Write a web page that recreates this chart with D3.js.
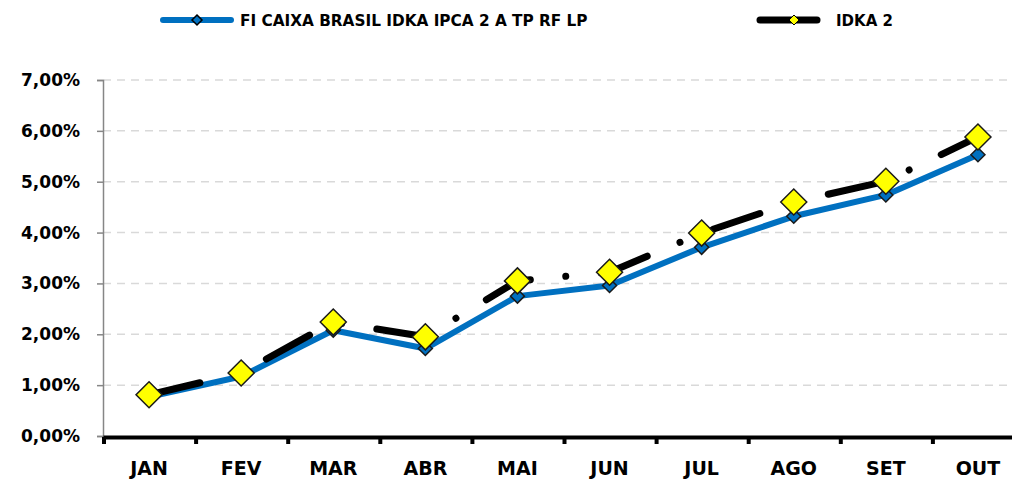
<!DOCTYPE html>
<html>
<head>
<meta charset="utf-8">
<script src="https://cdn.jsdelivr.net/npm/d3@7"></script>
<style>
  body { margin: 0; background: #fff; }
  svg { display: block; font-family: "DejaVu Sans", sans-serif; font-weight: bold; }
</style>
</head>
<body>
<div id="chart"></div>
<script>
var months = ["JAN", "FEV", "MAR", "ABR", "MAI", "JUN", "JUL", "AGO", "SET", "OUT"];
var fundo = [0.77, 1.17, 2.08, 1.72, 2.75, 2.96, 3.71, 4.32, 4.74, 5.53];
var idka = [0.81, 1.24, 2.24, 1.95, 3.05, 3.22, 3.99, 4.60, 5.01, 5.88];
var yTicks = [0, 1, 2, 3, 4, 5, 6, 7];
var seriesNames = ["FI CAIXA BRASIL IDKA IPCA 2 A TP RF LP", "IDKA 2"];

var width = 1012;
var height = 480;

var x_axis = d3.scaleBand().domain(months).range([103, 1024]);
var y_axis = d3.scaleLinear().domain([0, 7]).range([436, 80]);

var svg = d3.select("#chart").append("svg")
  .attr("width", width)
  .attr("height", height);

// grid
svg.append("g")
  .selectAll("line")
  .data(yTicks.slice(1))
  .enter().append("line")
  .attr("x1", 103)
  .attr("x2", width)
  .attr("y1", function(d) { return y_axis(d); })
  .attr("y2", function(d) { return y_axis(d); })
  .attr("stroke", "#d9d9d9")
  .attr("stroke-width", 1.5)
  .attr("stroke-dasharray", "8,6");

// y axis
var yAxis = svg.append("g")
  .attr("transform", "translate(103,0)")
  .call(d3.axisLeft(y_axis).tickValues(yTicks).tickSize(6).tickPadding(17)
    .tickFormat(function(d) { return d3.format(".2f")(d).replace(".", ",") + "%"; }));
yAxis.select(".domain").attr("stroke", "#868686").attr("stroke-width", 1.5);
yAxis.selectAll(".tick line").attr("stroke", "#868686").attr("stroke-width", 1.5);
yAxis.selectAll("text")
  .attr("fill", "#000")
  .style("font-size", "17px")
  .style("font-family", "DejaVu Sans")
  .style("font-weight", "bold");

// x axis
var xAxis = svg.append("g")
  .attr("transform", "translate(0,437)")
  .call(d3.axisBottom(x_axis).tickSize(0).tickPadding(25));
xAxis.select(".domain").attr("stroke", "#000").attr("stroke-width", 4);
xAxis.selectAll("text")
  .attr("fill", "#000")
  .style("font-size", "19px")
  .style("font-family", "DejaVu Sans")
  .style("font-weight", "bold");

// category boundary ticks
svg.append("g")
  .selectAll("line")
  .data(months)
  .enter().append("line")
  .attr("x1", function(d) { return x_axis(d) + 1; })
  .attr("x2", function(d) { return x_axis(d) + 1; })
  .attr("y1", 437)
  .attr("y2", 444)
  .attr("stroke", "#000")
  .attr("stroke-width", 4);

var cx = function(i) { return x_axis(months[i]) + x_axis.bandwidth() / 2; };

var line = d3.line()
  .x(function(d, i) { return cx(i); })
  .y(function(d) { return y_axis(d); });

var diamond = function(r) {
  return "M0," + (-r) + "L" + r + ",0L0," + r + "L" + (-r) + ",0Z";
};

// FI line
svg.append("path")
  .datum(fundo)
  .attr("d", line)
  .attr("fill", "none")
  .attr("stroke", "#0070c0")
  .attr("stroke-width", 6)
  .attr("stroke-linejoin", "round");

svg.append("g")
  .selectAll("path")
  .data(fundo)
  .enter().append("path")
  .attr("d", diamond(7))
  .attr("transform", function(d, i) { return "translate(" + cx(i) + "," + y_axis(d) + ")"; })
  .attr("fill", "#0070c0")
  .attr("stroke", "#1a1a1a")
  .attr("stroke-width", 1.5);

// IDKA line (long dash dot)
svg.append("path")
  .datum(idka)
  .attr("d", line)
  .attr("fill", "none")
  .attr("stroke", "#000")
  .attr("stroke-width", 7)
  .attr("stroke-linecap", "round")
  .attr("stroke-linejoin", "round")
  .attr("stroke-dasharray", "49.3,35.6,0.01,35.6")
  .attr("stroke-dashoffset", -3);

svg.append("g")
  .selectAll("path")
  .data(idka)
  .enter().append("path")
  .attr("d", diamond(13))
  .attr("transform", function(d, i) { return "translate(" + cx(i) + "," + y_axis(d) + ")"; })
  .attr("fill", "#ffff00")
  .attr("stroke", "#1a1a1a")
  .attr("stroke-width", 1.5);

// legend
var legend = svg.append("g");

legend.append("line")
  .attr("x1", 163).attr("x2", 231).attr("y1", 20).attr("y2", 20)
  .attr("stroke", "#0070c0").attr("stroke-width", 6).attr("stroke-linecap", "round");
legend.append("path")
  .attr("d", diamond(5))
  .attr("transform", "translate(197,20)")
  .attr("fill", "#0070c0").attr("stroke", "#000").attr("stroke-width", 1.5);
legend.append("text")
  .attr("x", 240).attr("y", 26)
  .style("font-size", "15.3px")
  .text(seriesNames[0]);

legend.append("line")
  .attr("x1", 760).attr("x2", 817).attr("y1", 20).attr("y2", 20)
  .attr("stroke", "#000").attr("stroke-width", 7).attr("stroke-linecap", "round");
legend.append("path")
  .attr("d", diamond(5))
  .attr("transform", "translate(794,20)")
  .attr("fill", "#ffff00").attr("stroke", "#000").attr("stroke-width", 1);
legend.append("text")
  .attr("x", 836).attr("y", 26)
  .style("font-size", "15px")
  .text(seriesNames[1]);
</script>
</body>
</html>
